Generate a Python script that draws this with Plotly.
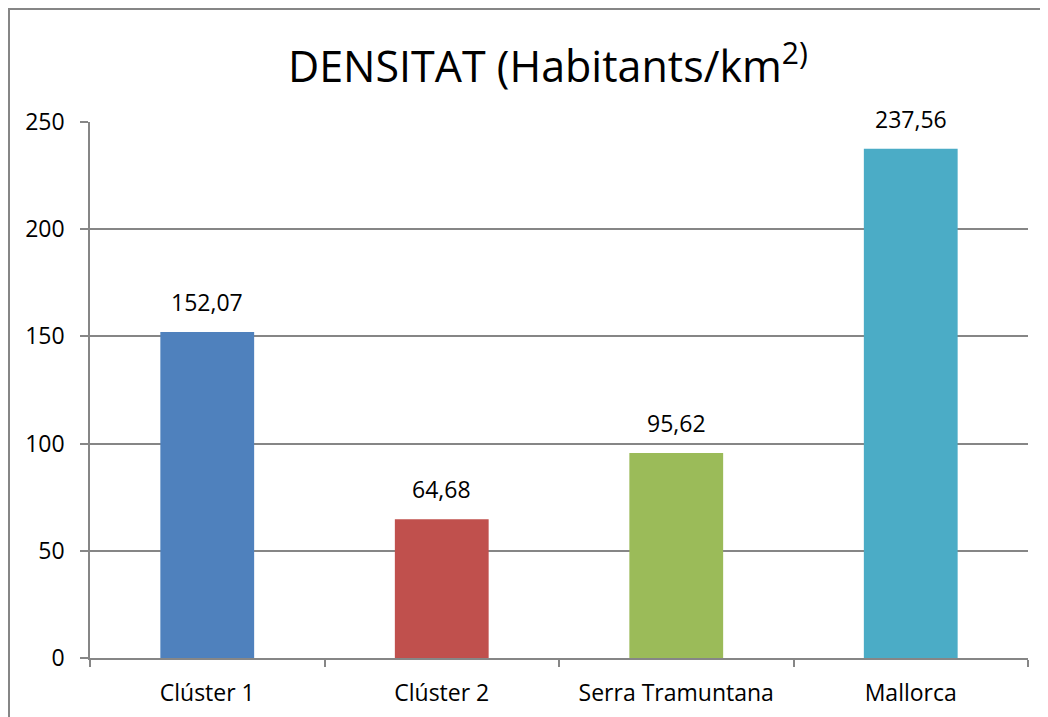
import plotly.graph_objects as go

categories = ["Clúster 1", "Clúster 2", "Serra Tramuntana", "Mallorca"]
values = [152.07, 64.68, 95.62, 237.56]
colors = ["#4F81BD", "#C0504D", "#9BBB59", "#4BACC6"]
y_ticks = [0, 50, 100, 150, 200, 250]

labels = [f"{v:.2f}".replace(".", ",") for v in values]

FONT = "Open Sans, sans-serif"

L, R, T, B = 82, 20, 114, 59
W, H = 1040, 709
PW, PH = W - L - R, H - T - B

fig = go.Figure()
fig.add_trace(go.Bar(
    x=categories, y=values, marker=dict(color=colors, line=dict(width=0)),
    width=0.4, cliponaxis=False, hoverinfo="skip",
))

for c, v, t in zip(categories, values, labels):
    fig.add_annotation(x=c, y=v, text=t, showarrow=False, yanchor="bottom",
                       yshift=12, font=dict(family=FONT, size=23, color="#000000"))

fig.add_annotation(xref="paper", yref="paper", x=(540 - L) / PW, y=(PH + T - 55) / PH,
                   text="DENSITAT (Habitants/km<sup>2)</sup>", showarrow=False,
                   yanchor="middle", xanchor="center",
                   font=dict(family=FONT, size=43, color="#000000"))

fig.add_shape(type="rect", xref="paper", yref="paper",
              x0=(1 - L) / PW, x1=1.2, y0=-0.3, y1=(PH + T - 1) / PH,
              line=dict(color="#868686", width=2), fillcolor="rgba(0,0,0,0)", layer="below")

fig.update_layout(
    width=W, height=H,
    margin=dict(l=L, r=R, t=T, b=B, autoexpand=False),
    paper_bgcolor="white", plot_bgcolor="white",
    showlegend=False,
    font=dict(family=FONT, size=23, color="#000000"),
    xaxis=dict(
        type="category", tickson="boundaries", ticks="outside", ticklen=7,
        tickcolor="#868686", tickwidth=1.5, showline=True, linecolor="#868686",
        linewidth=1.5, showgrid=False, tickfont=dict(family=FONT, size=23),
        range=[-0.5, 3.5], ticklabelstandoff=14, automargin=False,
    ),
    yaxis=dict(
        range=[0, 250], tickvals=y_ticks, ticks="outside", ticklen=8,
        tickcolor="#868686", tickwidth=1.5, showline=True, linecolor="#868686",
        linewidth=1.5, showgrid=True, gridcolor="#868686", gridwidth=1.5,
        zeroline=False, tickfont=dict(family=FONT, size=23), ticklabelstandoff=11,
        automargin=False,
    ),
)

fig.write_html("out.html")
